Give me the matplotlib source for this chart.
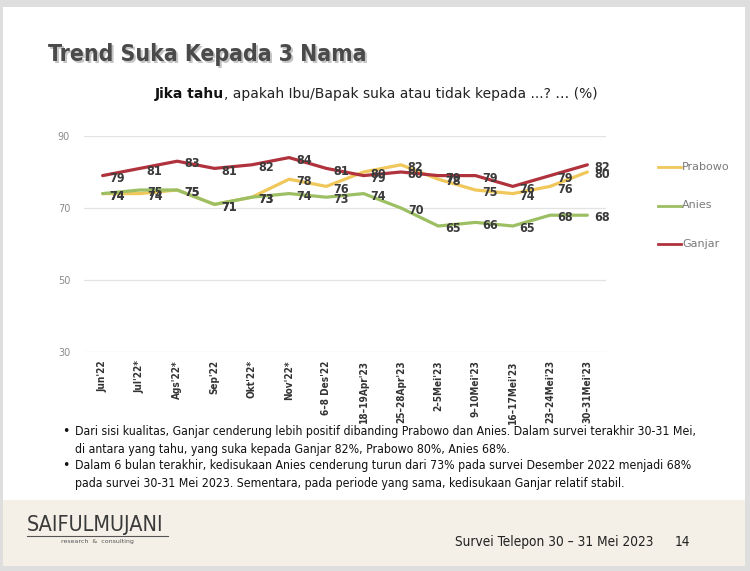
import matplotlib
matplotlib.use("Agg")
import matplotlib.pyplot as plt
from matplotlib.patches import Rectangle
from matplotlib import font_manager

categories = ["Jun'22", "Jul'22*", "Ags'22*", "Sep'22", "Okt'22*", "Nov'22*",
              "6\u20138 Des'22", "18\u201319Apr'23", "25\u201328Apr'23", "2\u20135Mei'23",
              "9\u201310Mei'23", "16\u201317Mei'23", "23\u201324Mei'23", "30\u201331Mei'23"]
prabowo = [74, 74, 75, 71, 73, 78, 76, 80, 82, 78, 75, 74, 76, 80]
anies = [74, 75, 75, 71, 73, 74, 73, 74, 70, 65, 66, 65, 68, 68]
ganjar = [79, 81, 83, 81, 82, 84, 81, 79, 80, 79, 79, 76, 79, 82]
yticks = [30, 50, 70, 90]

series = [("Prabowo", prabowo, "#f0c75a"),
          ("Anies", anies, "#9dbf63"),
          ("Ganjar", ganjar, "#b0323d")]

names = {f.name for f in font_manager.fontManager.ttflist}
NARROW = "Liberation Sans Narrow" if "Liberation Sans Narrow" in names else "DejaVu Sans"
NS = "normal" if NARROW == "Liberation Sans Narrow" else "condensed"

W, H = 750, 571
fig = plt.figure(figsize=(7.5, 5.71), dpi=100)
fig.patch.set_facecolor("#dedede")

bg = fig.add_axes([0, 0, 1, 1], zorder=-10)
bg.set_xlim(0, W)
bg.set_ylim(H, 0)
bg.axis("off")
bg.add_patch(Rectangle((3, 7), 742, 559, facecolor="white", edgecolor="none"))
bg.add_patch(Rectangle((3, 500), 742, 66, facecolor="#f4f0e7", edgecolor="none"))

ax = fig.add_axes([84 / W, 1 - 352 / H, 522 / W, 216 / H], zorder=5)
ax.set_facecolor("none")
x = list(range(len(categories)))
for name, vals, col in series:
    ax.plot(x, vals, color=col, lw=2.3, solid_capstyle="round", zorder=3)
for name, vals, col in series:
    for xi, v in zip(x, vals):
        ax.annotate(str(v), (xi, v), xytext=(5, -2), textcoords="offset points",
                    ha="left", va="center", fontsize=9, fontweight="bold",
                    family=NARROW, stretch=NS, color="#3a3a3a", zorder=4)

ax.set_xlim(-0.5, len(categories) - 0.5)
ax.set_ylim(30, 90)
ax.set_yticks(yticks)
ax.set_yticklabels([str(t) for t in yticks], fontsize=7, color="#8a8a8a")
ax.grid(axis="y", color="#e3e3e3", lw=0.9)
ax.set_axisbelow(True)
ax.set_xticks(x)
ax.set_xticklabels(categories, rotation=90, fontsize=7.2, color="#333333",
                   fontweight="bold", family=NARROW, stretch=NS)
ax.tick_params(axis="y", length=0, pad=10)
ax.tick_params(axis="x", length=0, pad=6)
for s in ax.spines.values():
    s.set_visible(False)

# legend
for i, (name, vals, col) in enumerate(series):
    ly = 167 + i * 38.5
    bg.plot([658, 681], [ly, ly], color=col, lw=2.0)
    bg.text(682, ly, name, fontsize=8, color="#7a7a7a", ha="left", va="center")

# title
title = "Trend Suka Kepada 3 Nama"
bg.text(49.5, 56.5, title, fontsize=16.5, family=NARROW, stretch=NS, fontweight="bold",
        color="#c4c4c4", ha="left", va="center")
bg.text(48, 55, title, fontsize=16.5, family=NARROW, stretch=NS, fontweight="bold",
        color="#4a4a4a", ha="left", va="center")

# subtitle
t1 = bg.text(155, 94, "Jika tahu", fontsize=10, fontweight="bold",
             color="#111111", ha="left", va="center")
fig.canvas.draw()
bb = t1.get_window_extent()
xend = bg.transData.inverted().transform((bb.x1, bb.y0))[0]
bg.text(xend, 94, ", apakah Ibu/Bapak suka atau tidak kepada ...? \u2026 (%)",
        fontsize=10, color="#222222", ha="left", va="center")

# bullets
lines = [
    (432, True, "Dari sisi kualitas, Ganjar cenderung lebih positif dibanding Prabowo dan Anies. Dalam survei terakhir 30-31 Mei,"),
    (449, False, "di antara yang tahu, yang suka kepada Ganjar 82%, Prabowo 80%, Anies 68%."),
    (466, True, "Dalam 6 bulan terakhir, kedisukaan Anies cenderung turun dari 73% pada survei Desember 2022 menjadi 68%"),
    (483, False, "pada survei 30-31 Mei 2023. Sementara, pada periode yang sama, kedisukaan Ganjar relatif stabil."),
]
for y, bullet, txt in lines:
    if bullet:
        bg.text(62, y, "\u2022", fontsize=9, color="#111111", ha="left", va="center")
    bg.text(75, y, txt, fontsize=8.8, family=NARROW, stretch=NS,
            color="#111111", ha="left", va="center")

# footer
bg.text(27, 525, "SAIFULMUJANI", fontsize=15.5, family=NARROW, stretch=NS,
        color="#3a3a3a", ha="left", va="center")
bg.plot([27, 168], [536, 536], color="#555555", lw=0.8)
bg.text(97, 541, "research  &  consulting", fontsize=4.5,
        color="#555555", ha="center", va="center")
bg.text(455, 542, "Survei Telepon 30 \u2013 31 Mei 2023", fontsize=9.8,
        family=NARROW, stretch=NS, color="#222222", ha="left", va="center")
bg.text(675, 542, "14", fontsize=9.8, family=NARROW, stretch=NS,
        color="#222222", ha="left", va="center")

fig.savefig("out.png", dpi=100, facecolor=fig.get_facecolor())
